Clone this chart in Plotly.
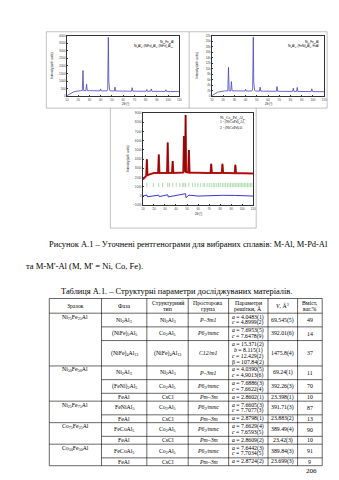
import plotly.graph_objects as go

# ---------------- diffraction patterns (2θ, counts) ----------------
# Ni75Fe25Al
tth1 = [10, 11, 12, 13, 14, 15, 16, 17, 18, 19, 20, 21, 22, 23.6, 24.2, 24.8, 26.8, 27.4, 28.0,
        30, 33, 36, 39.4, 39.9, 40.4, 43, 45.6, 46.2, 46.8, 47.2, 47.6, 48.0, 48.6, 51,
        52.2, 52.7, 53.2, 56, 60, 64, 67.4, 68.0, 68.6, 72, 76, 80.4, 81.0, 81.6,
        84.4, 85.0, 85.6, 89, 93, 97.4, 98.0, 98.6, 102, 106, 110]
int1 = [40, 90, 140, 185, 225, 260, 290, 310, 330, 345, 355, 362, 366, 370, 1700, 372, 368, 800, 368,
        365, 360, 356, 354, 480, 352, 350, 360, 420, 3900, 1000, 520, 380, 355, 348,
        346, 600, 346, 342, 338, 335, 333, 560, 332, 330, 328, 326, 450, 325,
        324, 480, 322, 320, 318, 316, 430, 314, 312, 308, 305]

# Ni50Fe50Al
tth2 = [10, 11, 12, 13, 14, 15, 16, 17, 18, 19, 20, 21, 22, 24.2, 24.8, 25.4, 26.8, 27.4, 28.0,
        30, 33, 36, 39.4, 40.0, 40.6, 43, 45.7, 46.3, 46.9, 47.3, 47.7, 48.1, 48.7, 51,
        52.4, 53.0, 53.6, 56, 60, 64, 67.4, 68.0, 68.6, 72, 76, 81.9, 82.5, 83.1,
        85.4, 86.0, 86.6, 89, 93, 98.4, 99.0, 99.6, 102, 106, 110]
int2 = [200, 500, 800, 1050, 1250, 1420, 1560, 1670, 1760, 1830, 1880, 1910, 1930, 1950, 10500, 1960, 1950, 5300, 1950,
        1940, 1920, 1900, 1890, 2500, 1880, 1870, 1950, 2600, 21500, 5000, 2700, 2050, 1900, 1860,
        1850, 3300, 1850, 1830, 1810, 1800, 1790, 3500, 1780, 1770, 1760, 1750, 2900, 1740,
        1730, 3200, 1720, 1710, 1700, 1690, 2700, 1680, 1670, 1650, 1640]

# Ni-Co-Pd-Al refinement: observed, Bragg positions, difference
tth3 = [10, 12, 13.0, 13.6, 14.2, 16, 18, 20, 23.8, 24.4, 25.0, 28, 31.9, 32.5, 33.1, 36.4, 37.0, 37.6,
        42, 46.6, 47.2, 47.8, 48.2, 48.7, 49.2, 51.1, 51.7, 52.3, 56, 62, 68, 71.3, 71.9, 72.5,
        77, 81.5, 82.1, 82.7, 88, 93.2, 93.8, 94.4, 100, 105, 110]
obs3 = [1800, 2050, 2200, 4000, 2250, 2350, 2450, 2500, 2500, 4500, 2500, 2500, 2500, 5800, 2500, 2500, 3800, 2500,
        2500, 2550, 6500, 2600, 2600, 8800, 2600, 2550, 5000, 2550, 2520, 2500, 2500, 2500, 3500, 2500,
        2500, 2500, 3500, 2500, 2500, 2480, 3400, 2480, 2470, 2460, 2450]
bragg3 = [13.6, 19.5, 24.4, 27.8, 32.5, 34.1, 37.0, 40.2, 43.5, 46.1, 47.2, 48.7, 51.7, 55.0, 57.3,
          59.8, 62.1, 64.5, 66.0, 68.2, 70.1, 71.9, 73.8, 75.2, 77.0, 78.6, 80.1, 82.1, 83.5, 85.0,
          86.6, 88.1, 89.4, 91.0, 92.3, 93.8, 95.2, 96.6, 98.0, 99.3, 100.7, 102.0, 103.4, 104.8,
          106.1, 107.5, 108.8]
diff_tth3 = [10, 13.6, 14, 24.4, 24.8, 32.5, 33, 47.2, 48.7, 49.1, 51.7, 60, 71.9, 82.1, 93.8, 110]
diff3 = [0, 120, -80, 100, -60, 140, -90, 160, 260, -180, 100, 0, 80, 80, 70, 0]

# ---------------- table ----------------
header = ["Зразок", "Фаза", "Структурний<br>тип", "Просторова<br>група",
          "Параметри<br>решітки, Å", "<i>V</i>, Å<sup>3</sup>", "Вміст,<br>ваг.%"]
samples = ["Ni<sub>75</sub>Fe<sub>25</sub>Al", "Ni<sub>50</sub>Fe<sub>50</sub>Al",
           "Ni<sub>25</sub>Fe<sub>75</sub>Al", "Co<sub>75</sub>Fe<sub>25</sub>Al",
           "Co<sub>50</sub>Fe<sub>50</sub>Al"]
phases_per_sample = [3, 3, 2, 2, 2]
phase = ["Ni<sub>2</sub>Al<sub>3</sub>", "(NiFe)<sub>2</sub>Al<sub>5</sub>", "(NiFe)<sub>4</sub>Al<sub>13</sub>",
         "Ni<sub>2</sub>Al<sub>3</sub>", "(FeNi)<sub>2</sub>Al<sub>5</sub>", "FeAl",
         "FeNiAl<sub>5</sub>", "FeAl", "FeCoAl<sub>5</sub>", "FeAl", "FeCoAl<sub>5</sub>", "FeAl"]
struct_type = ["Ni<sub>2</sub>Al<sub>3</sub>", "Co<sub>2</sub>Al<sub>5</sub>", "(NiFe)<sub>4</sub>Al<sub>13</sub>",
               "Ni<sub>2</sub>Al<sub>3</sub>", "Co<sub>2</sub>Al<sub>5</sub>", "CsCl",
               "Co<sub>2</sub>Al<sub>5</sub>", "CsCl", "Co<sub>2</sub>Al<sub>5</sub>", "CsCl",
               "Co<sub>2</sub>Al<sub>5</sub>", "CsCl"]
space_group = ["P–3m1", "P6<sub>3</sub>/mmc", "C12/m1", "P–3m1", "P6<sub>3</sub>/mmc", "Pm–3m",
               "P6<sub>3</sub>/mmc", "Pm–3m", "P6<sub>3</sub>/mmc", "Pm–3m", "P6<sub>3</sub>/mmc", "Pm–3m"]
lattice = [["<i>a</i> = 4.0483(1)", "<i>c</i> = 4.8999(2)"],
           ["<i>a</i> = 7.6953(5)", "<i>c</i> = 7.6478(9)"],
           ["<i>a</i> = 15.371(2)", "<i>b</i> = 8.115(1)", "<i>c</i> = 12.429(2)", "β = 107.84(2)"],
           ["<i>a</i> = 4,0390(5)", "<i>c</i> = 4,9013(6)"],
           ["<i>a</i> = 7.6886(3)", "<i>c</i> = 7.6622(4)"],
           ["<i>a</i> = 2.8602(1)"],
           ["<i>a</i> = 7.6605(3)", "<i>c</i> = 7.7077(3)"],
           ["<i>a</i> = 2.8798(1)"],
           ["<i>a</i> = 7.6629(4)", "<i>c</i> = 7.6593(5)"],
           ["<i>a</i> = 2.8609(2)"],
           ["<i>a</i> = 7.6442(3)", "<i>c</i> = 7.7034(5)"],
           ["<i>a</i> = 2.8724(2)"]]
volume = ["69.545(5)", "392.01(6)", "1475.8(4)", "69.24(1)", "392.26(3)", "23.398(1)",
          "391.71(3)", "23.883(2)", "389.49(4)", "23.42(3)", "389.84(3)", "23.699(3)"]
content = ["49", "14", "37", "11", "70", "10", "87", "13", "90", "10", "91", "9"]

W, H = 339, 480
SERIF = "Liberation Serif"


def xdom(a, b):
    return [a / W, b / W]


def ydom(top, bottom):
    return [1 - bottom / H, 1 - top / H]


fig = go.Figure()
BLUE = "#4444c4"
fig.add_trace(go.Scatter(x=tth1, y=int1, mode="lines", line=dict(color=BLUE, width=0.8),
                         xaxis="x", yaxis="y"))
fig.add_trace(go.Scatter(x=tth2, y=int2, mode="lines", line=dict(color=BLUE, width=0.8),
                         xaxis="x2", yaxis="y2"))
fig.add_trace(go.Scatter(x=tth3, y=obs3, mode="lines", line=dict(color="#d81a1a", width=2.0),
                         xaxis="x3", yaxis="y3"))
fig.add_trace(go.Scatter(x=tth3, y=obs3, mode="lines", line=dict(color="#4a0000", width=0.5),
                         xaxis="x3", yaxis="y3"))
fig.add_trace(go.Scatter(x=bragg3, y=[1200] * len(bragg3), mode="markers",
                         marker=dict(symbol="line-ns", size=3, line=dict(color="#5cb85c", width=0.5)),
                         xaxis="x3", yaxis="y3"))
fig.add_trace(go.Scatter(x=diff_tth3, y=diff3, mode="lines", line=dict(color="#3838d0", width=1.0),
                         xaxis="x3", yaxis="y3"))
# page-level axis in pixel units, used for frames, captions and the table
fig.add_trace(go.Scatter(x=[0], y=[0], mode="markers", marker=dict(opacity=0),
                         xaxis="x4", yaxis="y4", hoverinfo="skip"))

ax = dict(showline=True, linecolor="#333", linewidth=0.5, mirror=True, ticks="inside",
          ticklen=1.5, tickwidth=0.4, tickcolor="#333", showgrid=False, zeroline=False,
          tickfont=dict(size=3, color="#444", family="Arial"))

fig.update_layout(
    width=W, height=H, margin=dict(l=0, r=0, t=0, b=0),
    paper_bgcolor="white", plot_bgcolor="rgba(0,0,0,0)", showlegend=False,
    xaxis=dict(ax, domain=xdom(66, 180), range=[10, 110], dtick=10, anchor="y"),
    yaxis=dict(ax, domain=ydom(34, 95), range=[0, 4000], dtick=500, anchor="x"),
    xaxis2=dict(ax, domain=xdom(213, 327), range=[10, 110], dtick=10, anchor="y2"),
    yaxis2=dict(ax, domain=ydom(34, 95), range=[0, 22000], dtick=2000, anchor="x2"),
    xaxis3=dict(ax, domain=xdom(143, 255), range=[10, 110], dtick=10, anchor="y3"),
    yaxis3=dict(ax, domain=ydom(112, 205), range=[-1000, 9000], dtick=1000, anchor="x3"),
    xaxis4=dict(domain=[0, 1], range=[0, W], visible=False, anchor="y4", fixedrange=True),
    yaxis4=dict(domain=[0, 1], range=[H, 0], visible=False, anchor="x4", fixedrange=True),
)

shapes = []
annotations = []


def line(x0, y0, x1, y1, color="black", width=0.6):
    shapes.append(dict(type="line", xref="x4", yref="y4", x0=x0, y0=y0, x1=x1, y1=y1,
                       line=dict(color=color, width=width)))


def text(x, y, s, size, anchor="center", family=SERIF, color="black", angle=0):
    annotations.append(dict(xref="x4", yref="y4", x=x, y=y, text=s, showarrow=False,
                            xanchor=anchor, yanchor="middle", textangle=angle,
                            font=dict(size=size, family=family, color=color)))


# frames around the figure panels
FR = "#999"
line(45, 30, 330, 30, FR); line(45, 107, 330, 107, FR)
line(45, 30, 45, 107, FR); line(330, 30, 330, 107, FR)
line(190, 30, 190, 107, FR)
line(110, 107, 110, 228, FR); line(258, 107, 258, 228, FR); line(110, 228, 258, 228, FR)

# axis titles and panel labels
text(51, 64, "Intensity (arb. units)", 3, family="Arial", angle=-90)
text(198, 64, "Intensity (arb. units)", 3, family="Arial", angle=-90)
text(125, 102.5, "2θ (°)", 3, family="Arial")
text(270, 102.5, "2θ (°)", 3, family="Arial")
text(128, 158, "Intensity (arb. units)", 3, family="Arial", angle=-90)
text(199, 214, "2θ (°)", 3, family="Arial")
text(177, 40, "Ni<sub>75</sub>Fe<sub>25</sub>Al", 3, anchor="right", family="Arial")
text(177, 44, "Ni<sub>2</sub>Al<sub>3</sub>, (NiFe)<sub>2</sub>Al<sub>5</sub>, (NiFe)<sub>4</sub>Al<sub>13</sub>",
     3, anchor="right", family="Arial")
text(324, 40, "Ni<sub>50</sub>Fe<sub>50</sub>Al", 3, anchor="right", family="Arial")
text(324, 44, "Ni<sub>2</sub>Al<sub>3</sub>, (FeNi)<sub>2</sub>Al<sub>5</sub>, FeAl", 3, anchor="right", family="Arial")
text(219, 117, "Ni<sub>30</sub>Co<sub>20</sub>Pd<sub>10</sub>Al<sub>40</sub>", 3.6, anchor="left")
text(219, 122, "1 - (NiCoPd)<sub>2</sub>Al<sub>3</sub>", 3.6, anchor="left")
text(219, 127, "2 - (NiCoPd)Al", 3.6, anchor="left")

# captions
text(46, 244, "Рисунок А.1 – Уточнені рентгенограми для вибраних сплавів: M-Al, M-Pd-Al", 8.45, anchor="left")
text(22, 266, "та M-M'-Al (M, M' = Ni, Co, Fe).", 8.6, anchor="left")
text(177, 292, "Таблиця А.1. – Структурні параметри досліджуваних матеріалів.", 8.4)
text(322, 473, "206", 7, anchor="right")

# table grid
cols = [48, 101, 147, 189, 230, 270, 300, 325]
LH, PAD = 5.9, 2.0
FS = 5.8
top = 299
head_h = 2 * LH + PAD + 1
row_lines = [max(1, len(p)) for p in lattice]
row_h = [n * LH + PAD for n in row_lines]
bottom = top + head_h + sum(row_h)


def cell(ci, ymid, lines_):
    xc = (cols[ci] + cols[ci + 1]) / 2
    n = len(lines_)
    for k, s in enumerate(lines_):
        text(xc, ymid + (k - (n - 1) / 2) * LH, s, FS)


for c in cols:
    line(c, top, c, bottom)
line(cols[0], top, cols[-1], top)
for ci, h in enumerate(header):
    cell(ci, top + head_h / 2, h.split("<br>"))

y = top + head_h
ri = 0
for si, s in enumerate(samples):
    line(cols[0], y, cols[-1], y)
    text((cols[0] + cols[1]) / 2, y + PAD / 2 + LH / 2, s, FS)
    for k in range(phases_per_sample[si]):
        if k > 0:
            line(cols[1], y, cols[-1], y)
        ym = y + row_h[ri] / 2
        cell(1, ym, [phase[ri]])
        cell(2, ym, [struct_type[ri]])
        cell(3, ym, ["<i>" + space_group[ri] + "</i>"])
        cell(4, ym, lattice[ri])
        cell(5, ym, [volume[ri]])
        cell(6, ym, [content[ri]])
        y += row_h[ri]
        ri += 1
line(cols[0], bottom, cols[-1], bottom)

fig.update_layout(shapes=shapes, annotations=annotations)
fig.write_html("out.html")
